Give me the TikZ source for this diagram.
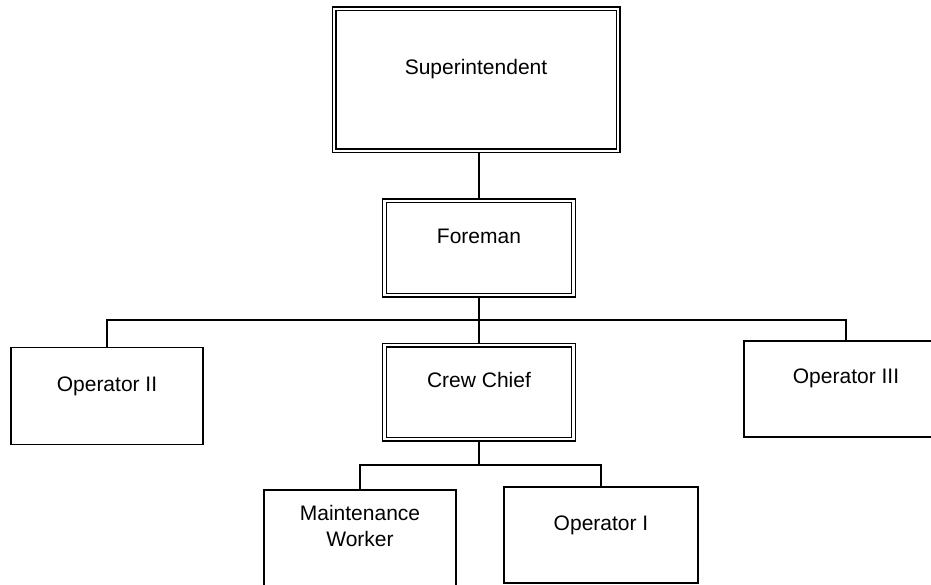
\documentclass[tikz,border=0pt]{standalone}
\usepackage{fontspec}
\setmainfont{Liberation Sans}

\tikzset{
  post/.style={draw, line width=1.4pt, minimum width=192pt, minimum height=97pt, inner sep=0pt},
  headpost/.style={post, double, double distance=2.4pt, line width=1.3pt},
  title/.style={anchor=center, font=\fontsize{21}{26}\selectfont, align=center},
  oneline/.style={title, text height=15pt, text depth=4pt},
  link/.style={line width=1.1pt}
}

\begin{document}
\begin{tikzpicture}[x=1pt, y=-1pt]
    \useasboundingbox (0,0) rectangle (931,585);

    % Superintendent box
    \node[headpost, minimum width=284pt, minimum height=142pt,
      label={[oneline, yshift=-61pt]north:Superintendent}] (super) at (476,80) {};

    % Foreman box
    \node[headpost, minimum width=189pt, minimum height=94pt,
      label={[oneline, yshift=-38pt]north:Foreman}] (fore) at (479,248) {};

    % Crew Chief box
    \node[headpost, minimum width=189pt, minimum height=94pt,
      label={[oneline, yshift=-38pt]north:Crew Chief}] (chief) at (479,392) {};

    % operators beside the crew chief
    \node[post, label={[oneline, yshift=-39pt]north:Operator II}] (optwo) at (107,396) {};
    \node[post, minimum width=204pt, minimum height=96pt,
      label={[oneline, yshift=-38pt]north:Operator III}] (opthree) at (846,389) {};

    % crew under the chief
    \node[post, minimum height=110pt,
      label={[title, yshift=-37pt]north:Maintenance\\Worker}] (maint) at (360,545) {};
    \node[post, minimum width=194pt, minimum height=96pt,
      label={[oneline, yshift=-39pt]north:Operator I}] (opone) at (601,535) {};

    % connectors
    \coordinate (topbar) at (479,320);
    \coordinate (lowbar) at (479,465);
    \draw[link] (super.south -| fore.north) -- (fore.north);
    \draw[link] (fore.south) -- (chief.north);
    \draw[link] (optwo.north) |- (topbar) -| (opthree.north);
    \draw[link] (chief.south) -- (lowbar);
    \draw[link] (maint.north) |- (lowbar) -| (opone.north);

\end{tikzpicture}
\end{document}
